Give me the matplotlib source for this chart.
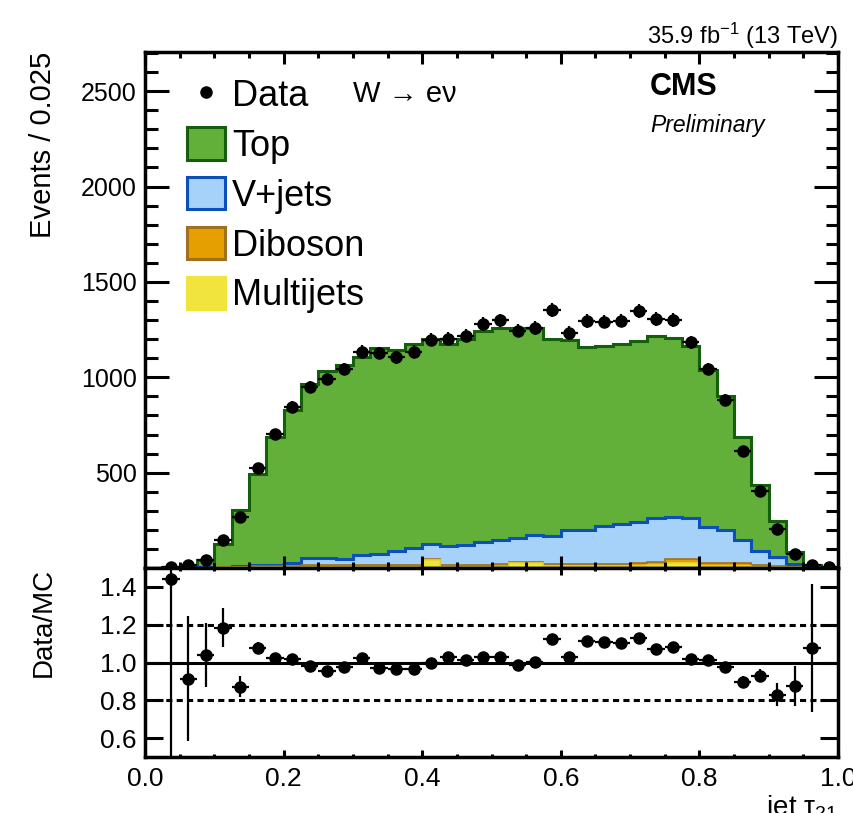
import numpy as np
import matplotlib
matplotlib.use("Agg")
import matplotlib.pyplot as plt
from matplotlib.patches import Patch
from matplotlib.lines import Line2D

# -----------------------------
# Data (40 bins of width 0.025 in jet tau21)
# -----------------------------
bin_edges = np.linspace(0.0, 1.0, 41)

top_mc = [0, 4.5, 13, 39, 119, 290, 476, 670, 803, 912,
          980, 1017, 1035, 1080, 1058, 1067, 1075, 1062, 1082, 1110,
          1111, 1096, 1083, 1032, 995, 959, 941, 944, 949, 957,
          936, 901, 823, 701, 539, 345, 190, 65, 12, 0]
vjets_mc = [0, 0, 0.5, 1, 1, 4, 7, 8, 15, 37,
            40, 35, 54, 59, 71, 89, 79, 95, 101, 117,
            129, 130, 144, 147, 179, 179, 200, 210, 215, 229,
            221, 214, 191, 177, 124, 75, 49, 15, 2, 0]
diboson_mc = [0, 0, 0.5, 1, 2, 3, 4, 5, 6, 7,
              7, 7, 8, 8, 8, 8, 6, 10, 10, 10,
              11, 6, 6, 12, 12, 12, 12, 12, 14, 18,
              20, 20, 12, 12, 12, 8, 5, 3, 1, 0]
multijets_mc = [0, 1, 1, 1, 4, 5, 5, 5, 6, 8,
                8, 8, 8, 8, 8, 8, 42, 8, 8, 8,
                8, 24, 24, 10, 10, 10, 10, 10, 10, 15,
                28, 28, 12, 12, 12, 8, 4, 3, 1, 0]

data = [np.nan, 8, 14, 44, 148, 265, 524, 704, 844, 949,
        991, 1043, 1133, 1127, 1104, 1133, 1197, 1202, 1218, 1280,
        1298, 1244, 1258, 1351, 1232, 1295, 1292, 1297, 1345, 1307,
        1302, 1183, 1043, 883, 615, 405, 204, 75, 17, 8]

ratio = [np.nan, 1.443, 0.914, 1.041, 1.185, 0.873, 1.076, 1.026, 1.02, 0.979,
         0.956, 0.976, 1.026, 0.97, 0.965, 0.965, 0.995, 1.028, 1.014, 1.028,
         1.03, 0.986, 1.002, 1.124, 1.028, 1.116, 1.108, 1.103, 1.132, 1.071,
         1.081, 1.02, 1.011, 0.976, 0.896, 0.931, 0.829, 0.877, 1.076, np.nan]
ratio_err = [np.nan, 1.0, 0.33, 0.17, 0.105, 0.055, 0.03, 0.025, 0.022, 0.02,
             0.02, 0.02, 0.02, 0.02, 0.02, 0.02, 0.02, 0.02, 0.02, 0.02,
             0.02, 0.02, 0.02, 0.02, 0.02, 0.02, 0.02, 0.02, 0.02, 0.02,
             0.02, 0.02, 0.02, 0.022, 0.03, 0.035, 0.06, 0.105, 0.34, np.nan]

# -----------------------------
# Style
# -----------------------------
plt.rcParams['font.family'] = ['Liberation Sans', 'DejaVu Sans']
plt.rcParams['mathtext.fontset'] = 'custom'
plt.rcParams['mathtext.rm'] = 'Liberation Sans'
plt.rcParams['mathtext.it'] = 'Liberation Sans:italic'

green, green_edge = '#62b03a', '#145f0c'
blue, blue_edge = '#a6d2fa', '#0b4fbb'
orange, orange_edge = '#e5a000', '#a0701e'
yellow, yellow_edge = '#f1e43d', '#e8d530'

centers = 0.5 * (bin_edges[:-1] + bin_edges[1:])
half_width = 0.5 * (bin_edges[1] - bin_edges[0])

# cumulative stack (bottom to top: multijets, diboson, V+jets, top)
stack_mj = np.array(multijets_mc, dtype=float)
stack_db = stack_mj + np.array(diboson_mc)
stack_vj = stack_db + np.array(vjets_mc)
stack_top = stack_vj + np.array(top_mc)

fig = plt.figure(figsize=(8.54, 8.13), dpi=100)
ax = fig.add_axes([0.1698, 0.3013, 0.8115, 0.6347])
rax = fig.add_axes([0.1698, 0.0689, 0.8115, 0.2324], sharex=ax)

# -----------------------------
# Main panel
# -----------------------------
ax.stairs(stack_top, bin_edges, fill=True, facecolor=green, edgecolor=green_edge, linewidth=2.2)
ax.stairs(stack_vj, bin_edges, fill=True, facecolor=blue, edgecolor=blue_edge, linewidth=2.2)
ax.stairs(stack_db, bin_edges, fill=True, facecolor=orange, edgecolor=orange_edge, linewidth=1.2)
ax.stairs(stack_mj, bin_edges, fill=True, facecolor=yellow, edgecolor=yellow_edge, linewidth=1.2)

data_arr = np.array(data)
ax.errorbar(centers, data_arr, xerr=half_width, yerr=np.sqrt(data_arr),
            fmt='o', color='black', markersize=8, elinewidth=1.6, capsize=0, zorder=5)

ax.set_xlim(0.0, 1.0)
ax.set_ylim(0, 2705)
ax.set_yticks([500, 1000, 1500, 2000, 2500])
ax.set_yticks(np.arange(100, 2701, 100), minor=True)
ax.set_xticks(np.arange(0.0, 1.01, 0.2))
ax.set_xticks(np.arange(0.0, 1.001, 0.05), minor=True)
ax.tick_params(which='both', direction='in', top=True, right=True, labelbottom=False,
               labelsize=18, width=2.2)
ax.tick_params(axis='y', which='major', length=17, pad=6)
ax.tick_params(axis='y', which='minor', length=9)
ax.tick_params(axis='x', which='major', length=8.6)
ax.tick_params(axis='x', which='minor', length=4)
for sp in ax.spines.values():
    sp.set_linewidth(2.5)
ax.set_ylabel('Events / 0.025', fontsize=21, loc='top')
ax.yaxis.set_label_coords(-0.127, 1.0)

handles = [
    Line2D([], [], marker='o', color='black', linestyle='none', markersize=8),
    Patch(facecolor=green, edgecolor=green_edge, linewidth=2.2),
    Patch(facecolor=blue, edgecolor=blue_edge, linewidth=2.2),
    Patch(facecolor=orange, edgecolor=orange_edge, linewidth=2.2),
    Patch(facecolor=yellow, edgecolor=yellow, linewidth=2.2),
]
labels = ['Data', 'Top', 'V+jets', 'Diboson', 'Multijets']
ax.legend(handles, labels, loc='upper left', bbox_to_anchor=(0.0606, 0.951),
          frameon=False, fontsize=26, handlelength=1.05, handleheight=1.0,
          handletextpad=0.2, labelspacing=0.37, borderpad=0, borderaxespad=0)

ax.text(0.300, 0.9187, 'W \u2192 e\u03bd', transform=ax.transAxes, fontsize=21,
        ha='left', va='center')
ax.text(0.7287, 0.933, 'CMS', transform=ax.transAxes, fontsize=22, fontweight='bold',
        ha='left', va='center')
ax.text(0.7287, 0.858, 'Preliminary', transform=ax.transAxes, fontsize=16.5, style='italic',
        ha='left', va='center')

fig.text(0.981, 1 - 44 / 813, '35.9 fb$^{\\mathregular{-1}}$ (13 TeV)', fontsize=17,
         ha='right', va='baseline')

# -----------------------------
# Ratio panel
# -----------------------------
rax.axhline(1.0, color='black', linewidth=2.2)
rax.axhline(0.8, color='black', linewidth=2.2, linestyle=(0, (2, 1.4)))
rax.axhline(1.2, color='black', linewidth=2.2, linestyle=(0, (2, 1.4)))
rax.errorbar(centers, ratio, xerr=half_width, yerr=ratio_err,
             fmt='o', color='black', markersize=8, elinewidth=1.6, capsize=0, zorder=5)

rax.set_ylim(0.5, 1.5)
rax.set_yticks([0.6, 0.8, 1.0, 1.2, 1.4])
rax.set_yticklabels(['0.6', '0.8', '1.0', '1.2', '1.4'])
rax.set_xticklabels(['0.0', '0.2', '0.4', '0.6', '0.8', '1.0'])
rax.tick_params(which='both', direction='in', top=True, right=True, labelsize=19, width=2.2)
rax.tick_params(axis='y', which='major', length=13, pad=6)
rax.tick_params(axis='x', which='major', length=5, pad=7)
rax.tick_params(axis='x', which='minor', length=2.5)
for sp in rax.spines.values():
    sp.set_linewidth(2.5)
rax.set_ylabel('Data/MC', fontsize=20, loc='top')
rax.yaxis.set_label_coords(-0.127, 1.0)

fig.text(838 / 854, 1 - 793 / 813, 'jet $\\mathregular{\\tau_{21}}$', fontsize=20,
         ha='right', va='top')

fig.savefig('out.png', dpi=100)
